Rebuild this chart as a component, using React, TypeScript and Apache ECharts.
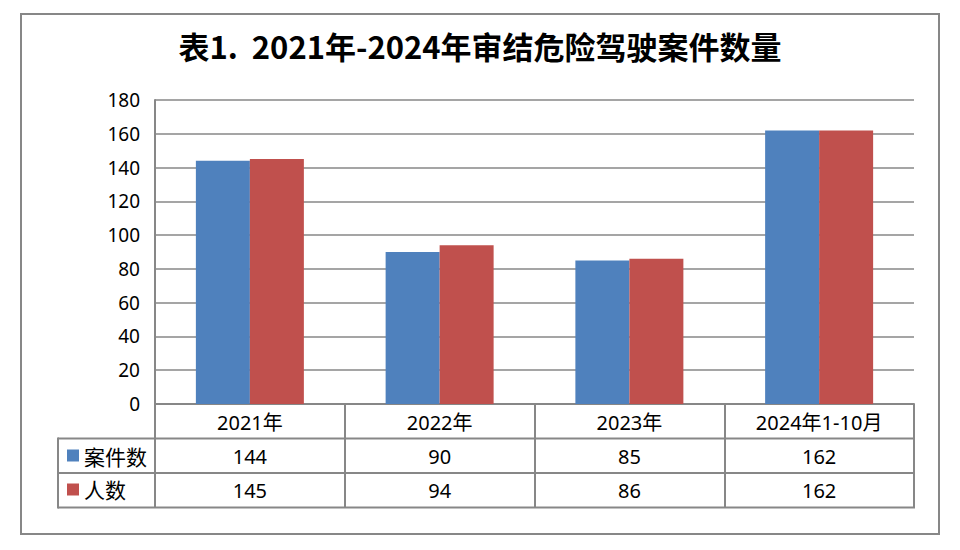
import React, { useEffect, useRef } from "react";
import * as echarts from "echarts";

const categories = ["2021年", "2022年", "2023年", "2024年1-10月"];
const caseCounts = [144, 90, 85, 162];
const personCounts = [145, 94, 86, 162];
const seriesNames = ["案件数", "人数"];
const titleText = "表1.  2021年-2024年审结危险驾驶案件数量";

const GRAY = "#878787";
const BLUE = "#4F81BD";
const RED = "#C0504D";
const FONT = "'Noto Sans', 'Noto Sans CJK SC', sans-serif";

const L = 155;
const R = 914;
const T = 100;
const B = 404;
const ROW = 34.5;

export default function App() {
  const ref = useRef<HTMLDivElement>(null);
  useEffect(() => {
    if (!ref.current) return;
    const chart = echarts.init(ref.current, undefined, { renderer: "svg" });
    const valueAxis = (vals: number[], margin: number) => ({
      type: "category",
      data: categories,
      position: "bottom",
      gridIndex: 0,
      axisLine: { show: false },
      axisTick: { show: false },
      splitLine: { show: false },
      axisLabel: {
        interval: 0,
        margin,
        verticalAlign: "middle",
        fontSize: 20,
        color: "#000",
        fontFamily: FONT,
        formatter: (_v: string, i: number) => String(vals[i]),
      },
    });
    chart.setOption({
      animation: false,
      backgroundColor: "#fff",
      title: {
        text: titleText,
        left: "center",
        top: 25,
        textStyle: {
          fontSize: 31,
          fontWeight: "bold",
          color: "#000",
          fontFamily: "'Noto Sans CJK SC', sans-serif",
        },
      },
      legend: {
        orient: "vertical",
        left: 62,
        top: 440,
        icon: "rect",
        itemWidth: 12,
        itemHeight: 12,
        itemGap: 13,
        textStyle: { fontSize: 21, color: "#000", fontFamily: "'Noto Sans CJK SC', sans-serif" },
        data: seriesNames,
      },
      grid: { left: L, right: 960 - R, top: T, bottom: 550 - B, containLabel: false },
      xAxis: [
        {
          type: "category",
          data: categories,
          position: "bottom",
          axisLine: { show: true, lineStyle: { color: GRAY, width: 2 } },
          axisTick: { show: true, interval: 0, length: ROW * 3 - 0.5, lineStyle: { color: GRAY, width: 2 } },
          axisLabel: {
            interval: 0,
            margin: 18,
            verticalAlign: "middle",
            fontSize: 20,
            color: "#000",
            fontFamily: FONT,
          },
        },
        valueAxis(caseCounts, 18 + ROW),
        valueAxis(personCounts, 18 + ROW * 2 - 0.5),
      ],
      yAxis: {
        type: "value",
        min: 0,
        max: 180,
        interval: 20,
        axisLine: { show: true, lineStyle: { color: GRAY, width: 2 } },
        axisTick: { show: false },
        splitLine: { lineStyle: { color: GRAY, width: 1.5 } },
        axisLabel: { fontSize: 19, color: "#000", margin: 15, fontFamily: FONT },
      },
      series: [
        {
          name: seriesNames[0],
          type: "bar",
          data: caseCounts,
          barWidth: 54,
          barGap: "0%",
          itemStyle: { color: BLUE },
        },
        {
          name: seriesNames[1],
          type: "bar",
          data: personCounts,
          barWidth: 54,
          barGap: "0%",
          itemStyle: { color: RED },
        },
      ],
      graphic: [
        {
          type: "rect",
          shape: { x: 21, y: 14, width: 918, height: 520 },
          style: { fill: "none", stroke: GRAY, lineWidth: 2 },
          silent: true,
        },
        ...[1, 2, 3].map((k) => ({
          type: "line",
          shape: { x1: 58, y1: B + ROW * k, x2: R + 1, y2: B + ROW * k },
          style: { stroke: GRAY, lineWidth: 2 },
          silent: true,
        })),
        {
          type: "line",
          shape: { x1: 58, y1: B + ROW - 1, x2: 58, y2: B + ROW * 3 + 1 },
          style: { stroke: GRAY, lineWidth: 2 },
          silent: true,
        },
      ],
    });
    return () => chart.dispose();
  }, []);
  return (
    <div
      ref={ref}
      style={{ position: "fixed", left: 0, top: 0, width: 960, height: 550, background: "#fff" }}
    />
  );
}
